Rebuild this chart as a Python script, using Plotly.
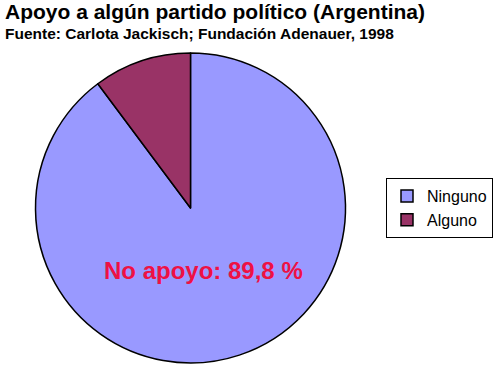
import plotly.graph_objects as go

labels = ["Ninguno", "Alguno"]
values = [89.8, 10.2]
colors = ["#9999FF", "#993366"]
title_text = "Apoyo a algún partido político (Argentina)"
subtitle_text = "Fuente: Carlota Jackisch; Fundación Adenauer, 1998"
inner_label = "No apoyo: 89,8 %"

W, H = 500, 381

fig = go.Figure(go.Pie(
    labels=labels, values=values, sort=False, direction="clockwise", rotation=0,
    marker=dict(colors=colors, line=dict(color="black", width=1.5)),
    textinfo="none", hoverinfo="label+percent",
    domain=dict(x=[35/W, 346/W], y=[1-363/H, 1-53/H]),
))

fig.add_annotation(text=f"<b>{title_text}</b>", xref="paper", yref="paper",
                   x=4/W, y=1-12/H, xanchor="left", yanchor="middle", showarrow=False,
                   borderpad=0,
                   font=dict(family="Liberation Sans, Arial", size=21, color="black"))
fig.add_annotation(text=f"<b>{subtitle_text}</b>", xref="paper", yref="paper",
                   x=4/W, y=1-33.5/H, xanchor="left", yanchor="middle", showarrow=False,
                   borderpad=0,
                   font=dict(family="Liberation Sans Narrow, Arial Narrow, Liberation Sans", size=15.5, color="black"))
fig.add_annotation(text=f"<b>{inner_label}</b>", xref="paper", yref="paper",
                   x=203/W, y=1-270/H, xanchor="center", yanchor="middle", showarrow=False,
                   font=dict(family="Liberation Sans, Arial", size=24, color="#EE1144"))

fig.update_layout(
    width=W, height=H, margin=dict(l=0, r=0, t=0, b=0),
    paper_bgcolor="white", plot_bgcolor="white",
    showlegend=True,
    legend=dict(x=386/W, y=1-178/H, xanchor="left", yanchor="top",
                bordercolor="black", borderwidth=1, bgcolor="white",
                font=dict(family="Liberation Sans, Arial", size=16, color="black"),
                itemwidth=30),
)

fig.write_html("out.html", config={"displayModeBar": False},
               post_script="document.body.style.margin='0px';")
